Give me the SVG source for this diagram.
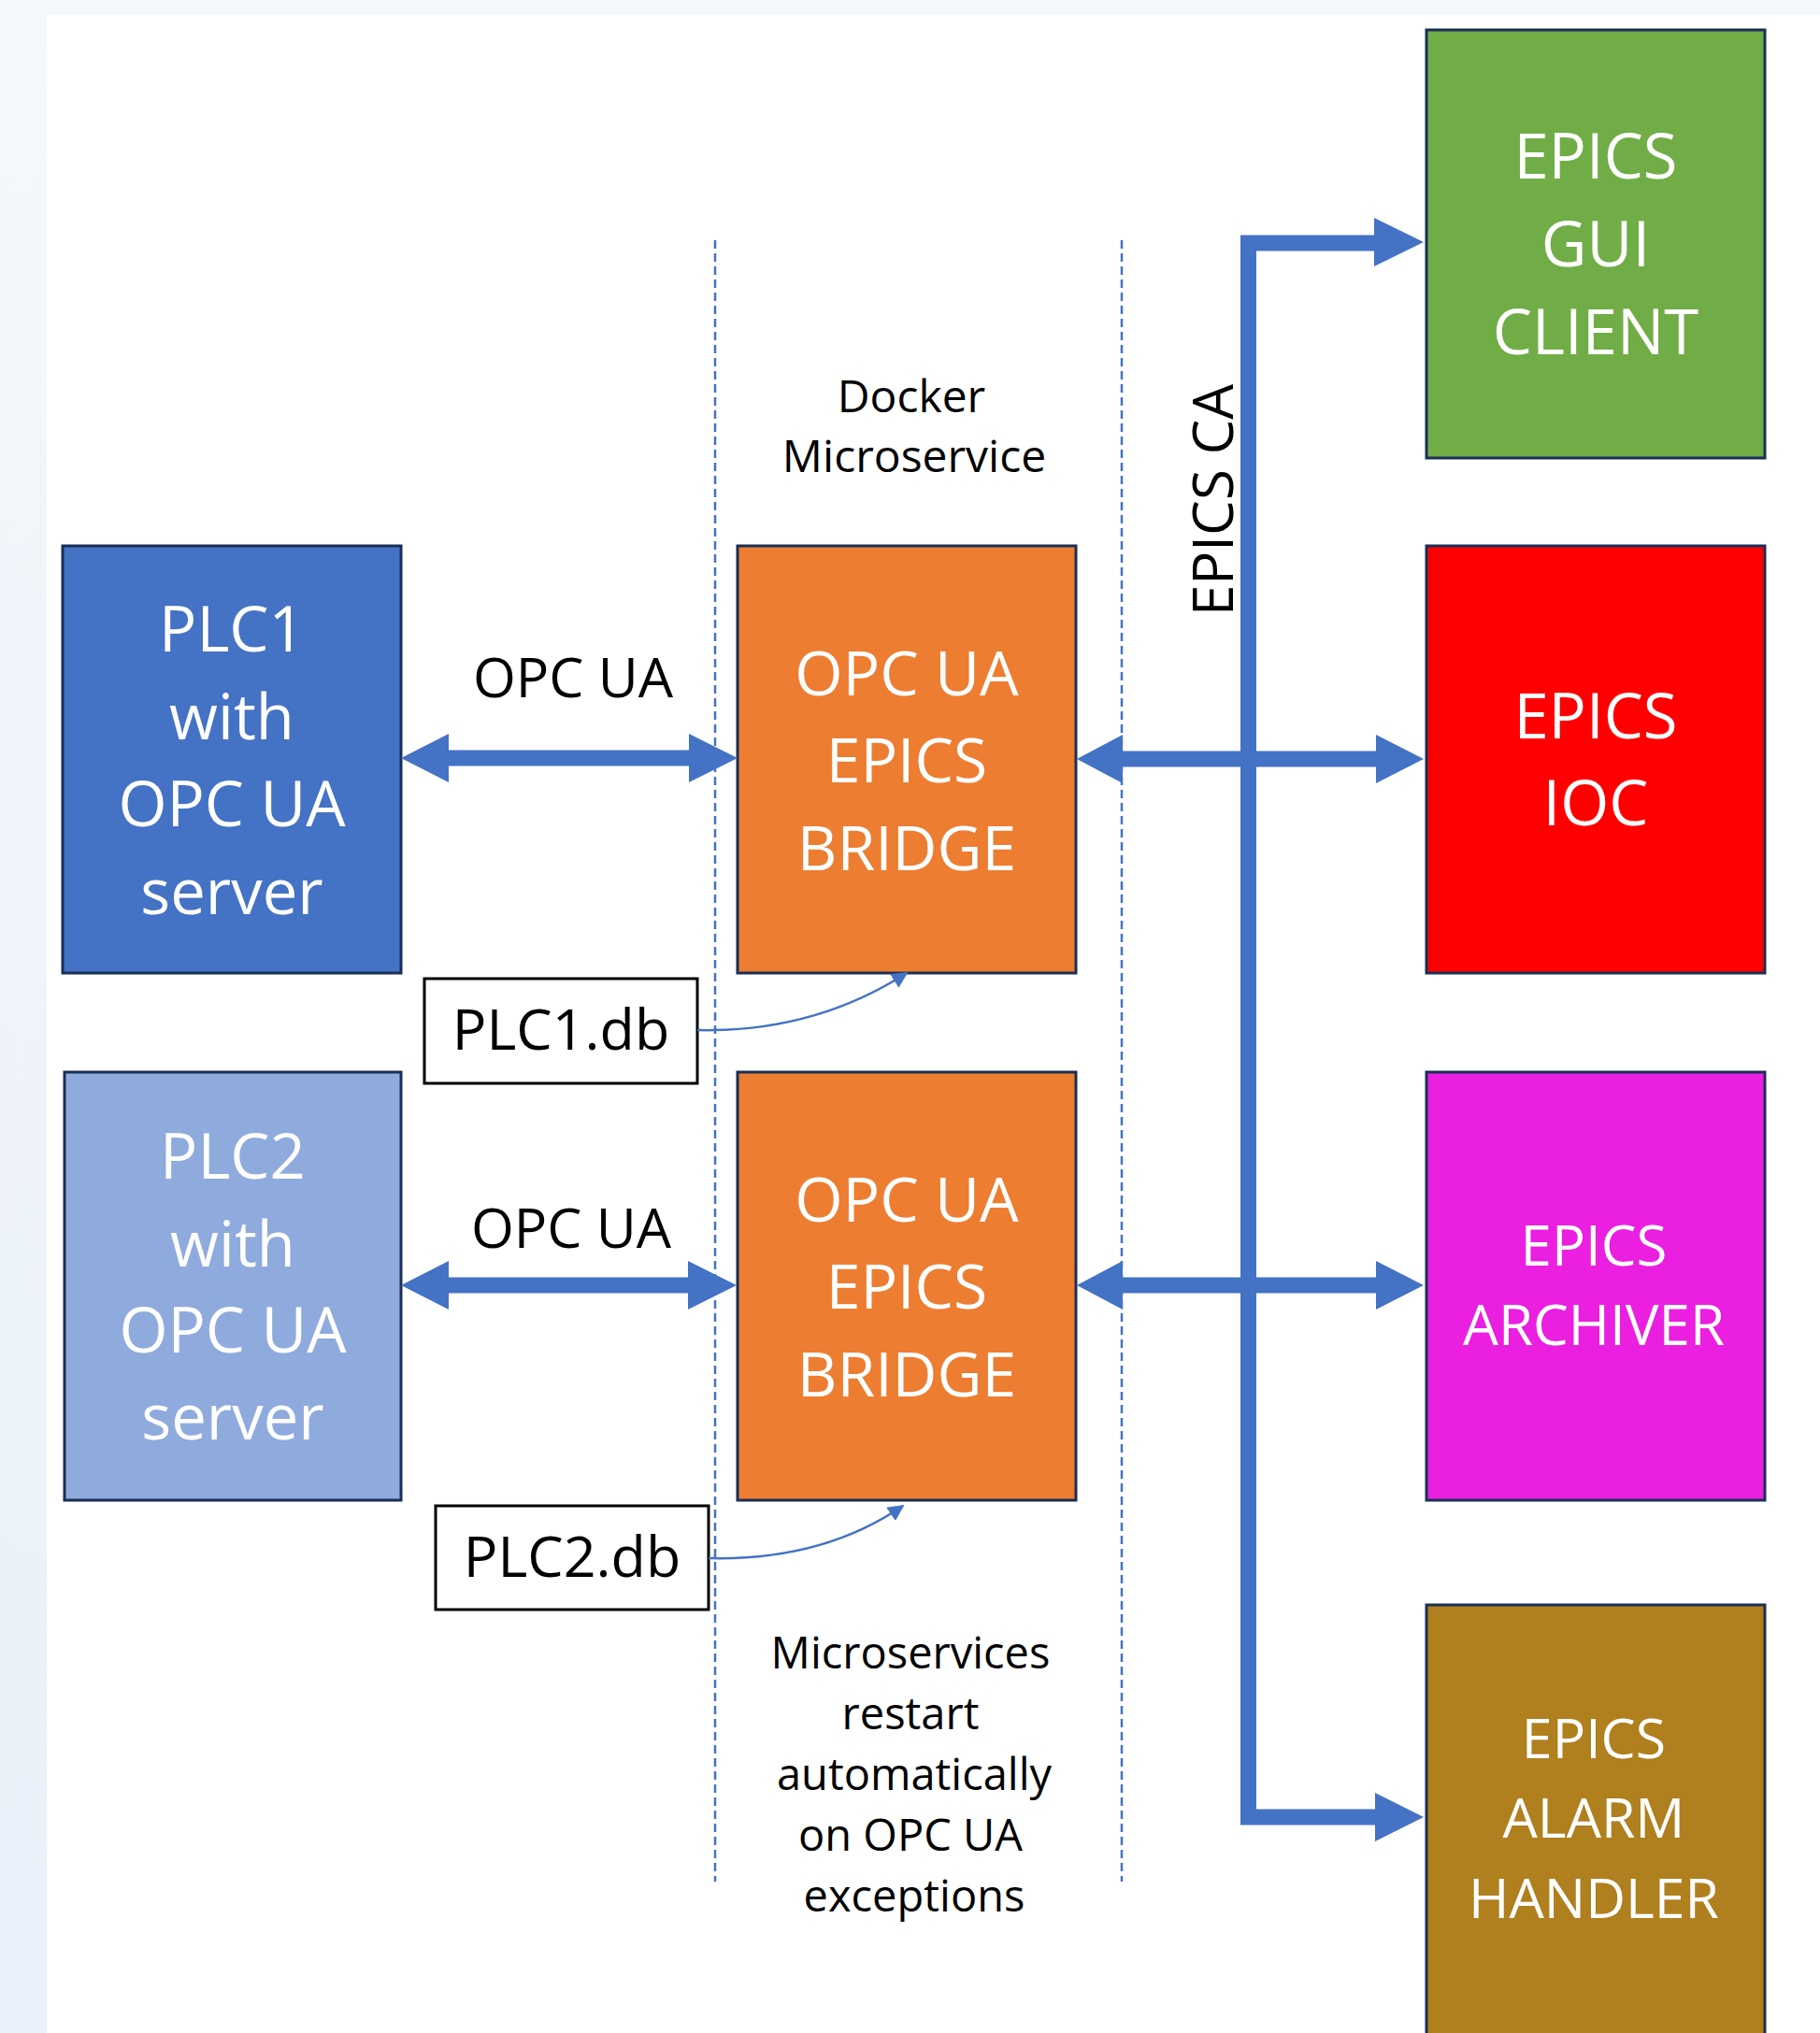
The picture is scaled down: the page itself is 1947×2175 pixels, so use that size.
<svg xmlns="http://www.w3.org/2000/svg" width="1947" height="2175" viewBox="0 0 1947 2175">
<style>
.box{stroke:#1a2f55;stroke-width:3}
.db{fill:#ffffff;stroke:#000000;stroke-width:3}
.wt{font-family:"Open Sans","Liberation Sans",sans-serif;fill:#ffffff;text-anchor:middle}
.bt{font-family:"Open Sans","Liberation Sans",sans-serif;fill:#000000;text-anchor:middle}
.fat{fill:none;stroke:#4472c4;stroke-width:17}
.head{fill:#4472c4}
.thin{fill:none;stroke:#4472c4;stroke-width:2.5}
.dash{fill:none;stroke:#4472c4;stroke-width:2.5;stroke-dasharray:9 5}
</style>
<defs>
<linearGradient id="bgl" x1="0" y1="0" x2="0" y2="1">
<stop offset="0" stop-color="#f5f8fc"/>
<stop offset="1" stop-color="#e9f0f9"/>
</linearGradient>
<marker id="sa" viewBox="0 0 10 10" refX="9" refY="5" markerWidth="7" markerHeight="7" orient="auto" markerUnits="strokeWidth">
<path d="M0,0 L10,5 L0,10 z" fill="#4472c4"/>
</marker>
</defs>
<rect x="0" y="0" width="1947" height="2175" fill="#ffffff"/>
<rect x="0" y="0" width="1947" height="16" fill="#f4f8fc"/>
<rect x="0" y="0" width="50" height="2175" fill="url(#bgl)"/>

<g id="dividers">
<line class="dash" x1="765" y1="257" x2="765" y2="2013"/>
<line class="dash" x1="1200" y1="257" x2="1200" y2="2013"/>
</g>

<g id="plc1">
<rect class="box" x="67" y="584" width="362" height="457" fill="#4472c4"/>
<text class="wt" font-size="67" x="248" y="697">PLC1</text>
<text class="wt" font-size="67" x="248" y="791">with</text>
<text class="wt" font-size="67" x="248" y="884">OPC UA</text>
<text class="wt" font-size="67" x="248" y="978">server</text>
</g>
<g id="plc2">
<rect class="box" x="69" y="1147" width="360" height="458" fill="#8faadc"/>
<text class="wt" font-size="67" x="249" y="1261">PLC2</text>
<text class="wt" font-size="67" x="249" y="1355">with</text>
<text class="wt" font-size="67" x="249" y="1447">OPC UA</text>
<text class="wt" font-size="67" x="249" y="1540">server</text>
</g>
<g id="bridge1">
<rect class="box" x="789" y="584" width="362" height="457" fill="#ed7d31"/>
<text class="wt" font-size="66" x="970" y="744">OPC UA</text>
<text class="wt" font-size="66" x="970" y="837">EPICS</text>
<text class="wt" font-size="66" x="970" y="931">BRIDGE</text>
</g>
<g id="bridge2">
<rect class="box" x="789" y="1147" width="362" height="458" fill="#ed7d31"/>
<text class="wt" font-size="66" x="970" y="1307">OPC UA</text>
<text class="wt" font-size="66" x="970" y="1400">EPICS</text>
<text class="wt" font-size="66" x="970" y="1494">BRIDGE</text>
</g>
<g id="plc1db">
<rect class="db" x="454" y="1047" width="292" height="112"/>
<text class="bt" font-size="61" x="600" y="1123">PLC1.db</text>
</g>
<g id="plc2db">
<rect class="db" x="466" y="1611" width="292" height="111"/>
<text class="bt" font-size="61" x="612" y="1687">PLC2.db</text>
</g>
<g id="gui">
<rect class="box" x="1526" y="32" width="362" height="458" fill="#70ad47"/>
<text class="wt" font-size="67" x="1707" y="191">EPICS</text>
<text class="wt" font-size="67" x="1707" y="285">GUI</text>
<text class="wt" font-size="67" x="1707" y="379">CLIENT</text>
</g>
<g id="ioc">
<rect class="box" x="1526" y="584" width="362" height="457" fill="#ff0000"/>
<text class="wt" font-size="67" x="1707" y="790">EPICS</text>
<text class="wt" font-size="67" x="1707" y="883">IOC</text>
</g>
<g id="archiver">
<rect class="box" x="1526" y="1147" width="362" height="458" fill="#ea1fe0"/>
<text class="wt" font-size="60" x="1705" y="1354">EPICS</text>
<text class="wt" font-size="60" x="1705" y="1439">ARCHIVER</text>
</g>
<g id="alarm">
<rect class="box" x="1526" y="1717" width="362" height="470" fill="#b07f1e"/>
<text class="wt" font-size="59" x="1705" y="1881">EPICS</text>
<text class="wt" font-size="59" x="1705" y="1966">ALARM</text>
<text class="wt" font-size="59" x="1705" y="2052">HANDLER</text>
</g>

<g id="labels">
<text class="bt" font-size="59" x="613" y="746">OPC UA</text>
<text class="bt" font-size="59" x="611" y="1335">OPC UA</text>
<text class="bt" font-size="48" x="975" y="441">Docker</text>
<text class="bt" font-size="48" x="978" y="505">Microservice</text>
<text class="bt" font-size="60" transform="translate(1319,535) rotate(-90)">EPICS CA</text>
<text class="bt" font-size="47" x="974" y="1785">Microservices</text>
<text class="bt" font-size="47" x="974" y="1850">restart</text>
<text class="bt" font-size="47" x="978" y="1915">automatically</text>
<text class="bt" font-size="47" x="974" y="1980">on OPC UA</text>
<text class="bt" font-size="47" x="978" y="2045">exceptions</text>
</g>

<g id="connectors">
<line class="fat" x1="478" y1="811" x2="739" y2="811"/>
<polygon class="head" points="429,811 480,785 480,837"/>
<polygon class="head" points="789,811 737,785 737,837"/>
<line class="fat" x1="478" y1="1375" x2="738" y2="1375"/>
<polygon class="head" points="429,1375 480,1349 480,1401"/>
<polygon class="head" points="788,1375 736,1349 736,1401"/>

<path class="fat" d="M1472,260 H1335.5 V1944 H1472" stroke-linejoin="miter"/>
<polygon class="head" points="1523,259 1470,233 1470,285"/>
<polygon class="head" points="1523,1944 1471,1918 1471,1970"/>
<line class="fat" x1="1199" y1="812" x2="1474" y2="812"/>
<polygon class="head" points="1152,812 1201,786 1201,838"/>
<polygon class="head" points="1523,812 1472,786 1472,838"/>
<line class="fat" x1="1199" y1="1375" x2="1474" y2="1375"/>
<polygon class="head" points="1152,1375 1201,1349 1201,1401"/>
<polygon class="head" points="1523,1375 1472,1349 1472,1401"/>

<path class="thin" d="M746,1102 Q870,1105 970,1041" marker-end="url(#sa)"/>
<path class="thin" d="M758,1667 Q880,1670 966,1611" marker-end="url(#sa)"/>
</g>
</svg>
